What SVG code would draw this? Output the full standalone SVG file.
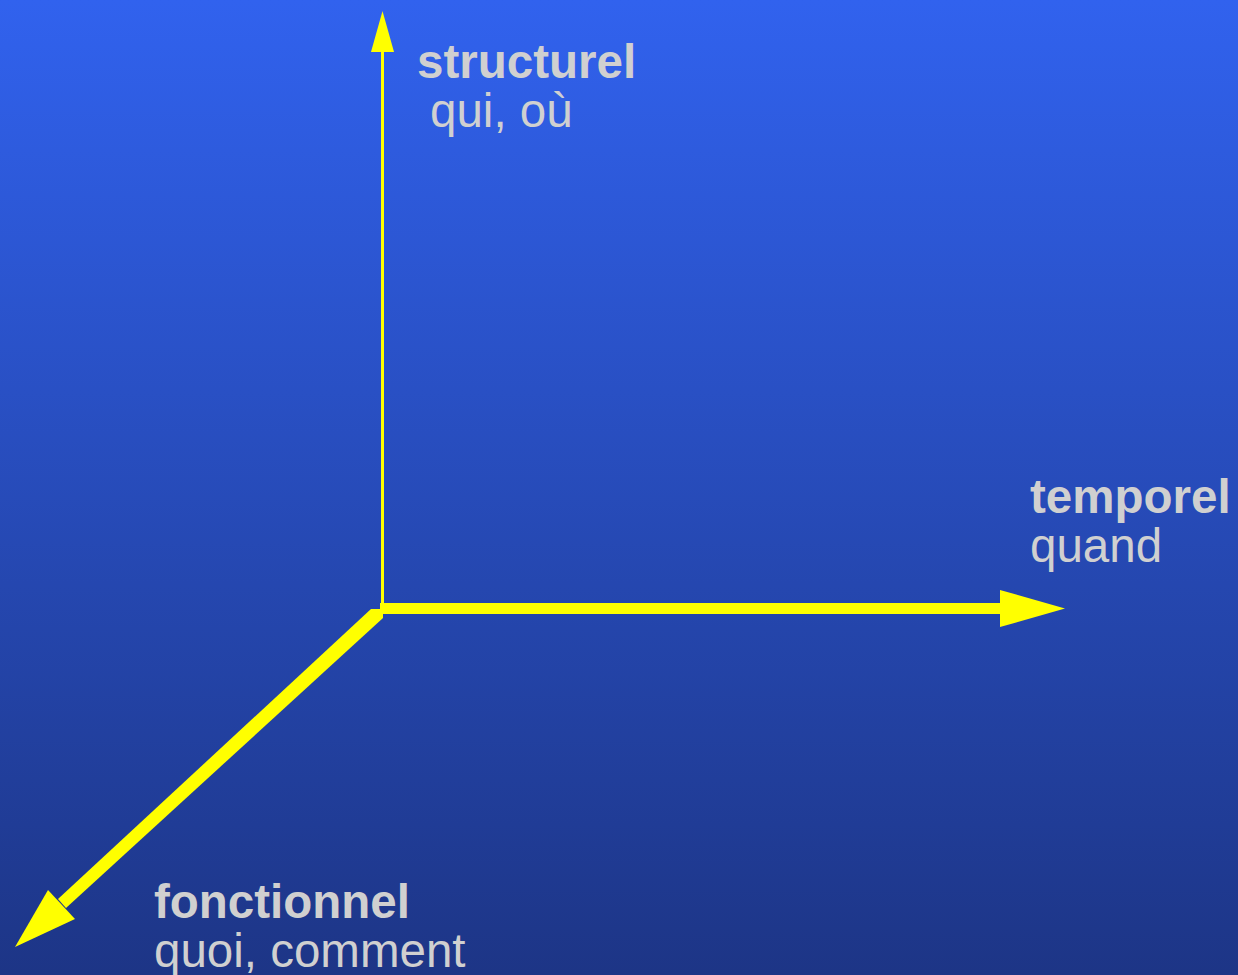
<svg xmlns="http://www.w3.org/2000/svg" width="1238" height="975" viewBox="0 0 1238 975">
<defs>
<linearGradient id="bg" x1="0" y1="0" x2="0" y2="1">
<stop offset="0" stop-color="#3162ee"/>
<stop offset="1" stop-color="#1d3586"/>
</linearGradient>
<style>
.t{font-family:"Liberation Sans",Arial,sans-serif;font-size:47.5px;fill:#d0d0d0}
.b{font-weight:bold}
.ax{fill:#ffff00;stroke:none}
</style>
</defs>
<rect width="1238" height="975" fill="url(#bg)"/>
<g id="connectors">
<g id="axis-structurel">
<rect class="ax" x="381" y="48" width="3" height="562"/>
<polygon class="ax" points="382.5,11 371,52 394,52"/>
</g>
<g id="axis-temporel">
<rect class="ax" x="380" y="603" width="624" height="11"/>
<polygon class="ax" points="1065,608.5 1000,590 1000,627"/>
</g>
<g id="axis-fonctionnel">
<polygon class="ax" points="371,609 383,609 383,618 66,908 58,899"/>
<polygon class="ax" points="15,947 48,890 75,919"/>
</g>
</g>
<g id="node-structurel">
<text class="t b" x="417" y="78">structurel</text>
<text class="t" x="430" y="127">qui, où</text>
</g>
<g id="node-temporel">
<text class="t b" x="1030" y="513">temporel</text>
<text class="t" x="1030" y="562">quand</text>
</g>
<g id="node-fonctionnel">
<text class="t b" x="154" y="918">fonctionnel</text>
<text class="t" x="154" y="967">quoi, comment</text>
</g>
</svg>
